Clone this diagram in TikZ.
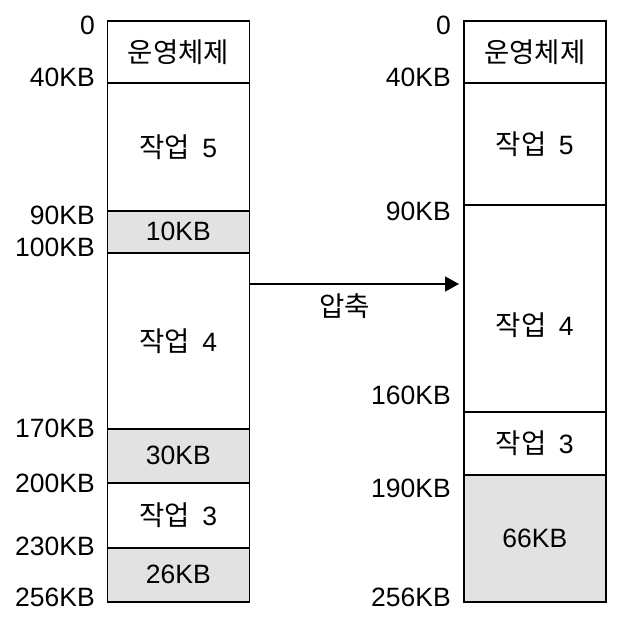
\documentclass[tikz,border=0pt]{standalone}
\usepackage{fontspec}
\setmainfont{Liberation Sans}
\newfontfamily\kr{Noto Sans CJK KR}
\usetikzlibrary{arrows.meta}
\definecolor{freegray}{HTML}{E2E2E2}
\newcommand\K[1]{{\fontsize{27.5}{30}\kr #1}}
\newcommand\job[1]{\K{작업}\hspace{5pt} #1}
\begin{document}
\begin{tikzpicture}[x=1pt,y=-1pt,
  seg/.style={draw, line width=1.6pt, minimum width=142pt, inner sep=0pt, anchor=north west, font=\fontsize{26.5}{30}\selectfont},
  free/.style={seg, fill=freegray},
  addr/.style={anchor=base east, inner sep=0pt, font=\fontsize{26.5}{30}\selectfont},
  conn/.style={line width=1.6pt, -{Triangle[length=14pt,width=15pt]}}]
\useasboundingbox (0,0) rectangle (623,616);
% left column
\node[seg,  minimum height=62pt]  (L0) at (106.5,20)  {\K{운영체제}};
\node[seg,  minimum height=128pt] (L1) at (106.5,82)  {\job{5}};
\node[free, minimum height=42pt]  (L2) at (106.5,210) {10KB};
\node[seg,  minimum height=176pt] (L3) at (106.5,252) {\job{4}};
\node[free, minimum height=54pt]  (L4) at (106.5,428) {30KB};
\node[seg,  minimum height=65pt]  (L5) at (106.5,482) {\job{3}};
\node[free, minimum height=54pt]  (L6) at (106.5,547) {26KB};
% right column
\node[seg,  minimum height=62pt]  (R0) at (463,20)  {\K{운영체제}};
\node[seg,  minimum height=122pt] (R1) at (463,82)  {\job{5}};
\node[seg,  minimum height=207pt] (R2) at (463,204) {\raisebox{-17pt}[\height][\depth]{\job{4}}};
\node[seg,  minimum height=63pt]  (R3) at (463,411) {\job{3}};
\node[free, minimum height=127pt] (R4) at (463,474) {66KB};
% left addresses
\node[addr] (a0)   at (95,34.5)  {0};
\node[addr] (a40)  at (95,86.5)  {40KB};
\node[addr] (a90)  at (95,224.5) {90KB};
\node[addr] (a100) at (95,256.5) {100KB};
\node[addr] (a170) at (95,437.5) {170KB};
\node[addr] (a200) at (95,492.5) {200KB};
\node[addr] (a230) at (95,555.5) {230KB};
\node[addr] (a256) at (95,606.5) {256KB};
% right addresses
\node[addr] (b0)   at (451,34.5)  {0};
\node[addr] (b40)  at (451,86.5)  {40KB};
\node[addr] (b90)  at (451,220.5) {90KB};
\node[addr] (b160) at (451,404.5) {160KB};
\node[addr] (b190) at (451,497.5) {190KB};
\node[addr] (b256) at (451,606.5) {256KB};
% compaction arrow
\draw[conn] ([yshift=-32pt]L3.north east) -- ([xshift=-4pt,yshift=-80pt]R2.north west)
  node[pos=0.453, yshift=-22pt] (lbl) {\K{압축}};
\end{tikzpicture}
\end{document}
